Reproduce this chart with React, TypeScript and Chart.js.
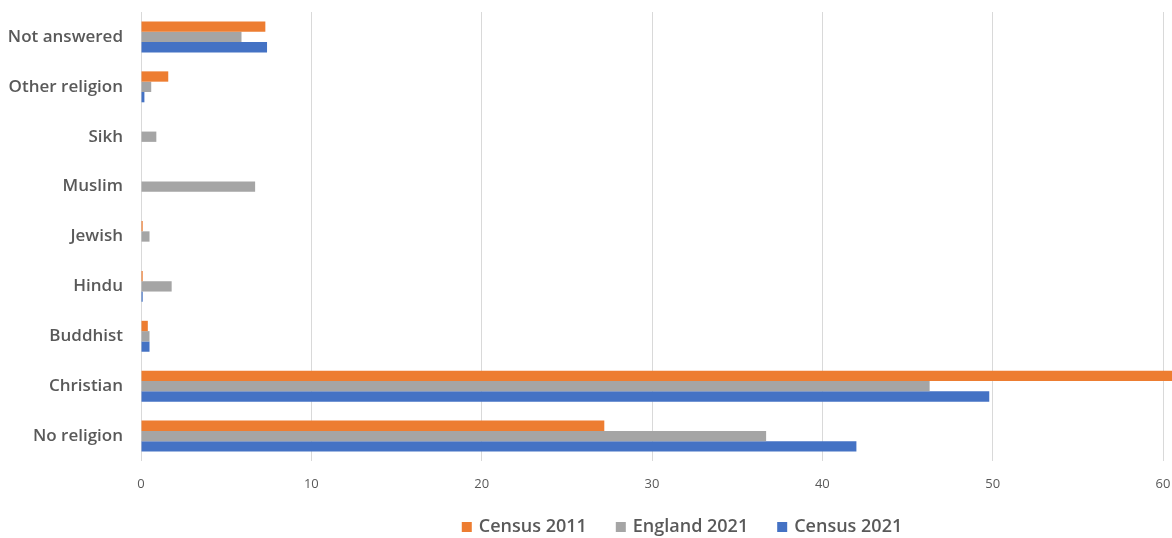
import React, { useEffect, useRef } from "react";
import { Chart, registerables } from "chart.js";

Chart.register(...registerables);

const categories = [
  "Not answered",
  "Other religion",
  "Sikh",
  "Muslim",
  "Jewish",
  "Hindu",
  "Buddhist",
  "Christian",
  "No religion",
];

const census2011 = [7.3, 1.6, 0, 0, 0.1, 0.1, 0.4, 62, 27.2];
const england2021 = [5.9, 0.6, 0.9, 6.7, 0.5, 1.8, 0.5, 46.3, 36.7];
const census2021 = [7.4, 0.2, 0, 0, 0, 0.1, 0.5, 49.8, 42.0];

const xTicks = [0, 10, 20, 30, 40, 50, 60];

const seriesNames = ["Census 2011", "England 2021", "Census 2021"];
const seriesColors = ["#ED7D31", "#A5A5A5", "#4472C4"];

const FONT = "'Open Sans', sans-serif";

const bottomLegend = {
  id: "bottomLegend",
  afterDraw(chart: any) {
    const ctx = chart.ctx as CanvasRenderingContext2D;
    const area = chart.chartArea;
    ctx.save();
    ctx.font = `600 18px ${FONT}`;
    ctx.textBaseline = "middle";
    ctx.textAlign = "left";
    const box = 10;
    const gapBoxText = 7;
    const gapItems = 29;
    const items = chart.data.datasets.map((ds: any) => ({
      text: ds.label as string,
      color: ds.backgroundColor as string,
      w: ctx.measureText(ds.label).width,
    }));
    const total =
      items.reduce((s: number, it: any) => s + box + gapBoxText + it.w, 0) +
      gapItems * (items.length - 1);
    const cx = (area.left + area.right) / 2 + 30;
    let x = cx - total / 2;
    const y = chart.height - 11;
    for (const it of items) {
      ctx.fillStyle = it.color;
      ctx.fillRect(x, y - box / 2, box, box);
      x += box + gapBoxText;
      ctx.fillStyle = "#595959";
      ctx.fillText(it.text, x, y);
      x += it.w + gapItems;
    }
    ctx.restore();
  },
};

export default function App() {
  const ref = useRef<HTMLCanvasElement | null>(null);

  useEffect(() => {
    document.body.style.margin = "0";
    const canvas = ref.current;
    if (!canvas) return;
    const values = [census2011, england2021, census2021];
    const chart = new Chart(canvas, {
      type: "bar",
      data: {
        labels: categories,
        datasets: values.map((d, i) => ({
          label: seriesNames[i],
          data: d,
          backgroundColor: seriesColors[i],
          borderWidth: 0,
          categoryPercentage: 0.62,
          barPercentage: 1.0,
          clip: false as any,
        })),
      },
      options: {
        indexAxis: "y",
        animation: false,
        responsive: false,
        maintainAspectRatio: false,
        layout: { padding: { top: 12, right: 9, left: 0, bottom: 32 } },
        scales: {
          x: {
            min: 0,
            max: 60,
            afterBuildTicks: (scale: any) => {
              scale.ticks = xTicks.map((v) => ({ value: v }));
            },
            afterFit: (scale: any) => {
              scale.height = 45;
              scale.paddingLeft = 0;
              scale.paddingRight = 0;
            },
            grid: { color: "#D9D9D9", lineWidth: 1, drawTicks: false },
            border: { display: false },
            ticks: {
              color: "#595959",
              padding: 15,
              font: { family: FONT, size: 13 },
            },
          },
          y: {
            grid: { display: false, drawTicks: false },
            border: { display: false },
            afterFit: (scale: any) => {
              scale.width = 141;
              scale.paddingTop = 0;
              scale.paddingBottom = 0;
            },
            ticks: {
              color: "#595959",
              padding: 18,
              font: { family: FONT, size: 17, weight: 600 as any },
            },
          },
        },
        plugins: {
          legend: { display: false },
          tooltip: { enabled: false },
        },
      },
      plugins: [bottomLegend],
    });
    return () => chart.destroy();
  }, []);

  return (
    <div style={{ width: 1172, height: 538 }}>
      <canvas ref={ref} width={1172} height={538} style={{ display: "block" }} />
    </div>
  );
}
